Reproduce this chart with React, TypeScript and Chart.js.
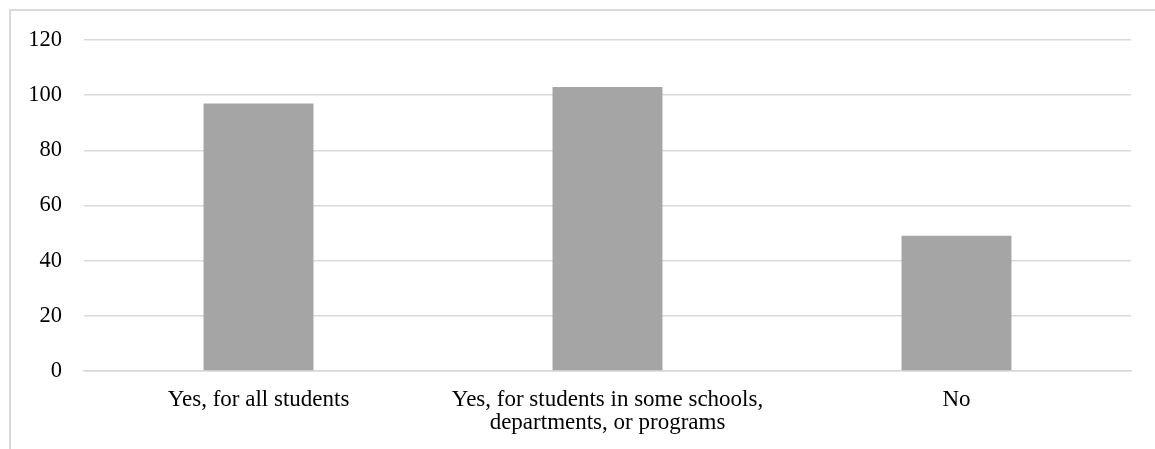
import React, { useEffect, useRef } from "react";
import { Chart, registerables } from "chart.js";

Chart.register(...registerables);

const categories: (string | string[])[] = [
  "Yes, for all students",
  ["Yes, for students in some schools,", "departments, or programs"],
  "No",
];
const counts = [97, 103, 49];
const yTicks = [0, 20, 40, 60, 80, 100, 120];

const BAR_COLOR = "#a5a5a5";
const GRID_COLOR = "#d9d9d9";
const TEXT_COLOR = "#000000";
const FONT_FAMILY = "'Liberation Serif', 'Times New Roman', serif";

// light outline around the chart, open on the right and bottom edges
const framePlugin = {
  id: "frame",
  beforeDraw(chart: Chart) {
    const ctx = chart.ctx;
    ctx.save();
    ctx.strokeStyle = GRID_COLOR;
    ctx.lineWidth = 2;
    ctx.beginPath();
    ctx.moveTo(10, chart.height + 5);
    ctx.lineTo(10, 10);
    ctx.lineTo(chart.width + 5, 10);
    ctx.stroke();
    ctx.restore();
  },
};

export default function App() {
  const canvasRef = useRef<HTMLCanvasElement | null>(null);

  useEffect(() => {
    if (!canvasRef.current) return;
    const chart = new Chart(canvasRef.current, {
      type: "bar",
      data: {
        labels: categories,
        datasets: [
          {
            data: counts,
            backgroundColor: BAR_COLOR,
            borderWidth: 0,
            categoryPercentage: 1,
            barPercentage: 0.315,
          },
        ],
      },
      options: {
        animation: false,
        responsive: false,
        maintainAspectRatio: false,
        layout: { padding: { left: 0, right: 24, top: 40, bottom: 0 } },
        plugins: {
          legend: { display: false },
          tooltip: { enabled: false },
        },
        scales: {
          x: {
            grid: { display: false, drawTicks: false },
            border: { display: true, color: GRID_COLOR, width: 1.5 },
            ticks: {
              color: TEXT_COLOR,
              padding: 18,
              maxRotation: 0,
              autoSkip: false,
              font: { family: FONT_FAMILY, size: 23, lineHeight: 0.98 },
            },
            afterFit(scale: any) {
              scale.height = 78;
            },
          },
          y: {
            min: 0,
            max: 120,
            afterBuildTicks(scale: any) {
              scale.ticks = yTicks.map((v) => ({ value: v }));
            },
            grid: { color: GRID_COLOR, lineWidth: 1.5, drawTicks: false },
            border: { display: false },
            ticks: {
              color: TEXT_COLOR,
              padding: 22,
              font: { family: FONT_FAMILY, size: 22.5 },
            },
            afterFit(scale: any) {
              scale.width = 84;
            },
          },
        },
      },
      plugins: [framePlugin],
    });
    return () => chart.destroy();
  }, []);

  return (
    <div style={{ position: "fixed", left: 0, top: 0, width: 1155, height: 449, background: "#fff" }}>
      <canvas ref={canvasRef} width={1155} height={449} style={{ display: "block" }} />
    </div>
  );
}
